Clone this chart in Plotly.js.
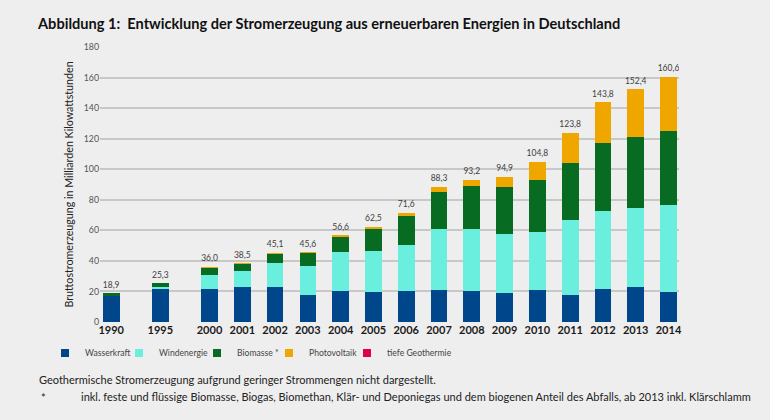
<!DOCTYPE html>
<html>
<head>
<meta charset="utf-8">
<script src="https://cdn.plot.ly/plotly-3.0.1.min.js"></script>
<style>
  html, body { margin: 0; padding: 0; background: #eeeeee; }
  #chart { width: 770px; height: 420px; }
</style>
</head>
<body>
<div id="chart"></div>
<script>
// ---- Data (TWh = Mrd. kWh) ----
const years = ['1990','1995','2000','2001','2002','2003','2004','2005','2006','2007','2008','2009','2010','2011','2012','2013','2014'];
const wasserkraft = [17.5, 21.6, 21.6, 22.6, 23.1, 17.7, 20.0, 19.6, 20.0, 21.2, 20.4, 19.0, 21.0, 17.7, 21.8, 23.0, 19.6];
const windenergie = [0.1, 1.5, 9.4, 10.5, 15.8, 18.9, 25.5, 27.2, 30.7, 39.7, 40.6, 38.6, 37.8, 48.9, 50.7, 51.7, 56.8];
const biomasse    = [1.3, 2.2, 4.9, 5.3, 6.0, 8.7, 10.5, 14.4, 18.7, 24.3, 27.8, 30.7, 34.3, 37.6, 44.9, 46.7, 48.8];
const photovoltaik= [0.0, 0.0, 0.1, 0.1, 0.2, 0.3, 0.6, 1.3, 2.2, 3.1, 4.4, 6.6, 11.7, 19.6, 26.4, 31.0, 35.3];
// tiefe Geothermie: too small to be drawn (see footnote) -> legend entry only
const totals      = [18.9, 25.3, 36.0, 38.5, 45.1, 45.6, 56.6, 62.5, 71.6, 88.3, 93.2, 94.9, 104.8, 123.8, 143.8, 152.4, 160.6];
const seriesNames = ['Wasserkraft', 'Windenergie', 'Biomasse *', 'Photovoltaik', 'tiefe Geothermie'];
const yTicks = [0, 20, 40, 60, 80, 100, 120, 140, 160, 180];

// ---- Styling / layout ----
const colors = ['#00468b', '#6aeedd', '#086b22', '#efa700', '#e2004a'];
const legendWidths = [29, 33, 27, 33, 80];
const font = 'Lato, "Open Sans", sans-serif';
// x positions: wider gap after 1990 and 1995 (1.5 slots), then one slot per year
const xpos = years.map((y, i) => i < 2 ? i * 1.5 : i + 1);

const seriesVals = [wasserkraft, windenergie, biomasse, photovoltaik];
const traces = seriesVals.map((vals, k) => ({
  type: 'bar',
  name: seriesNames[k],
  x: xpos,
  y: vals,
  marker: { color: colors[k], line: { width: 0 } },
  showlegend: false,
  hoverinfo: 'name+y'
}));

// legend entries (small square markers)
seriesNames.forEach((n, k) => traces.push({
  type: 'scatter', mode: 'markers', name: n,
  x: [null], y: [null],
  marker: { symbol: 'square', size: 8, color: colors[k] },
  legendwidth: legendWidths[k],
  showlegend: true, hoverinfo: 'skip'
}));

// total labels above bars
traces.push({
  type: 'scatter', mode: 'markers+text',
  x: xpos, y: totals,
  text: totals.map(v => v.toFixed(1).replace('.', ',')),
  textposition: 'top center',
  textfont: { family: font, size: 8.5, color: '#404040' },
  marker: { size: 4, color: 'rgba(0,0,0,0)' },
  showlegend: false, hoverinfo: 'skip'
});

const layout = {
  width: 770, height: 420,
  margin: { l: 100, r: 91, t: 47, b: 98 },
  paper_bgcolor: '#eeeeee',
  plot_bgcolor: '#eeeeee',
  barmode: 'stack',
  bargap: 0.49,
  title: {
    text: 'Abbildung 1:  Entwicklung der Stromerzeugung aus erneuerbaren Energien in Deutschland',
    font: { family: font, size: 14.6, color: '#111111', weight: 'bold' },
    xref: 'container', yref: 'container',
    x: 38 / 770, xanchor: 'left',
    y: 1 - 24 / 420, yanchor: 'middle'
  },
  xaxis: {
    range: [-0.34, 17.32],
    tickmode: 'array', tickvals: xpos, ticktext: years,
    tickfont: { family: font, size: 11, color: '#1a1a1a', weight: 'bold' },
    showgrid: false, zeroline: false, showline: false, ticks: '',
    fixedrange: true
  },
  yaxis: {
    range: [0, 180],
    tickmode: 'array', tickvals: yTicks,
    tickfont: { family: font, size: 8.8, color: '#555555' },
    ticks: '',
    showgrid: true, gridcolor: '#c8c8c8', gridwidth: 1.5,
    zeroline: false, showline: false,
    title: {
      text: 'Bruttostromerzeugung in Milliarden Kilowattstunden',
      font: { family: font, size: 10.7, color: '#222222' },
      standoff: 7
    },
    automargin: false,
    fixedrange: true
  },
  legend: {
    orientation: 'h',
    xref: 'container', yref: 'container',
    x: 45 / 770, xanchor: 'left',
    y: 1 - 353 / 420, yanchor: 'middle',
    font: { family: font, size: 8.6, color: '#444444' },
    bgcolor: 'rgba(0,0,0,0)',
    itemwidth: 30,
    entrywidthmode: 'pixels',
    traceorder: 'normal'
  },
  annotations: [
    { xref: 'paper', yref: 'paper', x: (37 - 100) / 579, y: -(379 - 322) / 275,
      xanchor: 'left', yanchor: 'middle', showarrow: false,
      text: 'Geothermische Stromerzeugung aufgrund geringer Strommengen nicht dargestellt.',
      font: { family: font, size: 11, color: '#222222' } },
    { xref: 'paper', yref: 'paper', x: (39 - 100) / 579, y: -(397 - 322) / 275,
      xanchor: 'left', yanchor: 'middle', showarrow: false,
      text: '*',
      font: { family: font, size: 11, color: '#222222' } },
    { xref: 'paper', yref: 'paper', x: (79 - 100) / 579, y: -(396 - 322) / 275,
      xanchor: 'left', yanchor: 'middle', showarrow: false,
      text: 'inkl. feste und flüssige Biomasse, Biogas, Biomethan, Klär- und Deponiegas und dem biogenen Anteil des Abfalls, ab 2013 inkl. Klärschlamm',
      font: { family: font, size: 11, color: '#222222' } }
  ]
};

Plotly.newPlot('chart', traces, layout, { displayModeBar: false, responsive: false });
</script>
</body>
</html>
